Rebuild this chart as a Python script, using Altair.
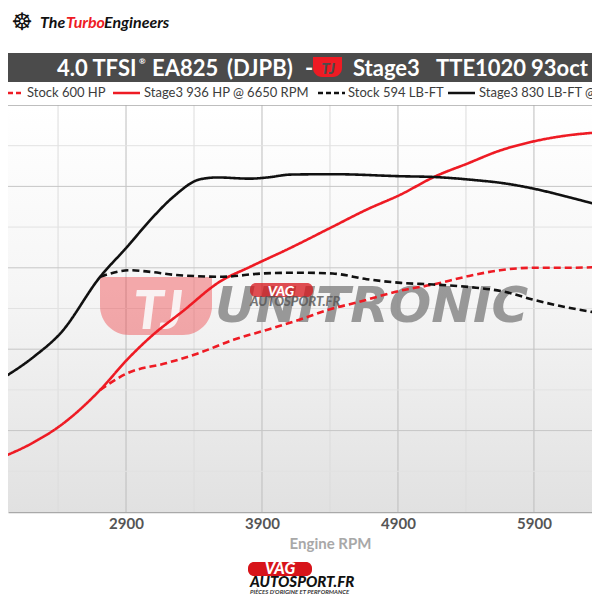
import altair as alt
import pandas as pd

# ---------------- data ----------------
SERIES = ["Stock 600 HP", "Stage3 936 HP @ 6650 RPM",
          "Stock 594 LB-FT", "Stage3 830 LB-FT @ 4300 RPM"]

stock_hp_rpm = [2710, 2910, 3200, 3440, 3690, 3940, 4180, 4420, 4600, 4920,
                5160, 5410, 5650, 5890, 6140, 6390]
stock_hp = [300, 341, 366, 391, 423, 448, 473, 500, 515, 544,
            559, 579, 594, 600, 600, 602]

stage3_hp_rpm = [1970, 2220, 2420, 2710, 2910, 3080, 3320, 3590, 3810, 4110,
                 4420, 4670, 4920, 5170, 5410, 5650, 5890, 6140, 6390]
stage3_hp = [132, 171, 213, 300, 375, 430, 494, 566, 602, 649,
             701, 743, 780, 824, 856, 888, 910, 925, 933]

stock_tq_rpm = [2710, 2930, 3080, 3250, 3610, 3900, 4180, 4420, 4670, 4920,
                5160, 5450, 5700, 5890, 6140, 6390]
stock_tq = [578, 594, 590, 583, 578, 586, 588, 586, 572, 563,
            559, 552, 540, 522, 503, 488]

stage3_tq_rpm = [1970, 2220, 2420, 2710, 2910, 3080, 3250, 3440, 3570, 3810,
                 3940, 4110, 4420, 4920, 5170, 5480, 5650, 5890, 6140, 6390]
stage3_tq = [324, 381, 440, 578, 652, 718, 775, 817, 822, 819,
             822, 829, 830, 825, 823, 815, 809, 795, 775, 753]

x_labels = [2900, 3900, 4900, 5900]
x_major = [1900, 2900, 3900, 4900, 5900]
x_minor = [2400, 3400, 4400, 5400, 6400]
y_major = [200, 400, 600, 800]
y_minor = [100, 300, 500, 700, 900]
y_frame = [1000]

RED = "#ee1b24"
BLACK = "#111111"

frames = []
for name, r, v in [(SERIES[0], stock_hp_rpm, stock_hp),
                   (SERIES[1], stage3_hp_rpm, stage3_hp),
                   (SERIES[2], stock_tq_rpm, stock_tq),
                   (SERIES[3], stage3_tq_rpm, stage3_tq)]:
    frames.append(pd.DataFrame({"rpm": r, "value": v, "series": name}))
lines_df = pd.concat(frames, ignore_index=True)

X_SCALE = alt.Scale(domain=[2032, 6327], nice=False, zero=False)
Y_SCALE = alt.Scale(domain=[0, 1000], nice=False)

X_AXIS = alt.Axis(values=x_labels, format="d", grid=False,
                  ticks=False, domain=True, domainColor="#a9a9a9", domainWidth=1.5,
                  labelFont="Lato", labelFontWeight="bold", labelFontSize=15,
                  labelColor="#555555", labelBaseline="middle", labelPadding=11,
                  title="Engine RPM", titleFont="Lato", titleFontWeight="bold",
                  titleFontSize=15, titleColor="#a8a8a8",
                  titleX=322, titleY=31, titleBaseline="middle")

lines = alt.Chart(lines_df).mark_line(interpolate="monotone", strokeWidth=2.6,
                                      clip=True).encode(
    x=alt.X("rpm:Q", scale=X_SCALE, axis=X_AXIS),
    y=alt.Y("value:Q", scale=Y_SCALE, axis=None),
    color=alt.Color("series:N", scale=alt.Scale(domain=SERIES,
                                                range=[RED, RED, BLACK, BLACK]),
                    legend=None),
    strokeDash=alt.StrokeDash("series:N",
                              scale=alt.Scale(domain=SERIES,
                                              range=[[7, 4], [1, 0], [7, 4], [1, 0]]),
                              legend=None),
    order="rpm:Q",
)


def vgrid(vals, color, width=1.0):
    return alt.Chart(pd.DataFrame({"rpm": vals})).mark_rule(
        color=color, strokeWidth=width, clip=True).encode(
        x=alt.X("rpm:Q", scale=X_SCALE, axis=X_AXIS))


def hgrid(vals, color, width=1.0):
    return alt.Chart(pd.DataFrame({"value": vals})).mark_rule(
        color=color, strokeWidth=width, clip=True).encode(
        y=alt.Y("value:Q", scale=Y_SCALE, axis=None))


one = pd.DataFrame({"k": [0]})


def txt(s, x, y, size, color, font="Lato", weight="bold", style="normal",
        align="left", baseline="alphabetic", opacity=1.0):
    return alt.Chart(one).mark_text(
        text=s, font=font, fontSize=size, fontWeight=weight, fontStyle=style,
        color=color, align=align, baseline=baseline, opacity=opacity
    ).encode(x=alt.value(x), y=alt.value(y))


def box(x, x2, y, y2, color, opacity=1.0, **kw):
    return alt.Chart(one).mark_rect(color=color, opacity=opacity, **kw).encode(
        x=alt.value(x), x2=alt.value(x2), y=alt.value(y), y2=alt.value(y2))


def key(x, x2, y, color, dash):
    return alt.Chart(one).mark_rule(color=color, strokeWidth=2.6, strokeDash=dash).encode(
        x=alt.value(x), x2=alt.value(x2), y=alt.value(y))


bg_gradient = alt.LinearGradient(
    gradient="linear", x1=0, y1=0, x2=0, y2=1,
    stops=[alt.GradientStop(offset=0, color="#ffffff"),
           alt.GradientStop(offset=0.45, color="#f6f6f6"),
           alt.GradientStop(offset=1, color="#e1e1e1")])

background = box(0, 584, 0, 407, bg_gradient)

grid = [
    vgrid(x_minor, "#dcdcdc"), vgrid(x_major, "#bdbdbd"),
    hgrid(y_minor, "#e2e2e2"), hgrid(y_major, "#c6c6c6"),
    hgrid(y_frame, "#a9a9a9", 1.6),
]

# watermarks (under the curves)
watermark = [
    box(92, 204, 172, 230, "#ee3b40", opacity=0.42,
        cornerRadiusBottomLeft=34, cornerRadiusBottomRight=34),
    txt("TJ", 150, 224, 54, "#fafafa", weight=900, style="italic", align="center",
        opacity=0.9),
    txt("UNITRONIC", 207, 217, 50, "#8f8f8f", font="DejaVu Sans", weight="bold",
        style="italic", opacity=0.9),
    box(242, 305, 178, 192, "#d7141a", opacity=0.75, cornerRadius=6),
    txt("VAG", 273, 191, 14, "white", weight=900, style="italic", align="center"),
    txt("AUTOSPORT.FR", 242, 201, 13, "#555555", weight=900, style="italic",
        opacity=0.8),
]

LEG = "#3c3c3c"
# header: logo, title banner, legend
header = [
    txt("☸", 14, -82, 24, "#111111", font="DejaVu Sans", weight="normal",
        align="center", baseline="middle"),
    txt("The", 32, -77, 16, "#111111", weight="bold", style="italic"),
    txt("Turbo", 58, -77, 16, RED, weight="bold", style="italic"),
    txt("Engineers", 96, -77, 16, "#111111", weight="bold", style="italic"),
    box(-8, 592, -52, -23, "#4b4b4b"),
    txt("4.0 TFSI", 49, -29, 22, "white"),
    txt("®", 131, -41, 8, "white"),
    txt("EA825", 144, -29, 22, "white"),
    txt("(DJPB)", 219, -29, 22, "white"),
    txt("-", 297, -29, 22, "white"),
    box(305, 334, -48, -28, RED, cornerRadiusBottomLeft=9, cornerRadiusBottomRight=9),
    txt("TJ", 320, -31, 15, "#4b4b4b", weight=900, style="italic", align="center"),
    txt("Stage3", 345, -29, 22, "white"),
    txt("TTE1020", 428, -29, 22, "white"),
    txt("93oct", 523, -29, 22, "white"),
    key(-8, 15, -12, RED, [5, 3]),
    txt(SERIES[0], 19, -12, 13, LEG, baseline="middle", weight="normal"),
    key(105, 132, -12, RED, [1, 0]),
    txt(SERIES[1], 136, -12, 13, LEG, baseline="middle", weight="normal"),
    key(310, 337, -12, BLACK, [5, 3]),
    txt(SERIES[2], 340, -12, 13, LEG, baseline="middle", weight="normal"),
    key(440, 467, -12, BLACK, [1, 0]),
    txt(SERIES[3], 471, -12, 13, LEG, baseline="middle", weight="normal"),
]

# footer logo
footer = [
    box(240, 304, 457, 471, "#d7141a", cornerRadius=6),
    txt("VAG", 272, 469, 16, "white", weight=900, style="italic", align="center"),
    txt("AUTOSPORT.FR", 242, 482, 15, "#111111", weight=900, style="italic"),
    txt("PIÈCES D'ORIGINE ET PERFORMANCE", 242, 489, 6, "#333333", weight="bold",
        style="italic"),
]

chart = alt.layer(background, *grid, *watermark, lines, *header, *footer).properties(
    width=584, height=407,
    autosize=alt.AutoSizeParams(type="none"),
    padding={"left": 0, "top": 97, "right": 0, "bottom": 84},
).configure(background="white").configure_view(stroke=None)

chart.save("out.html", embed_options={"renderer": "svg", "actions": False})
